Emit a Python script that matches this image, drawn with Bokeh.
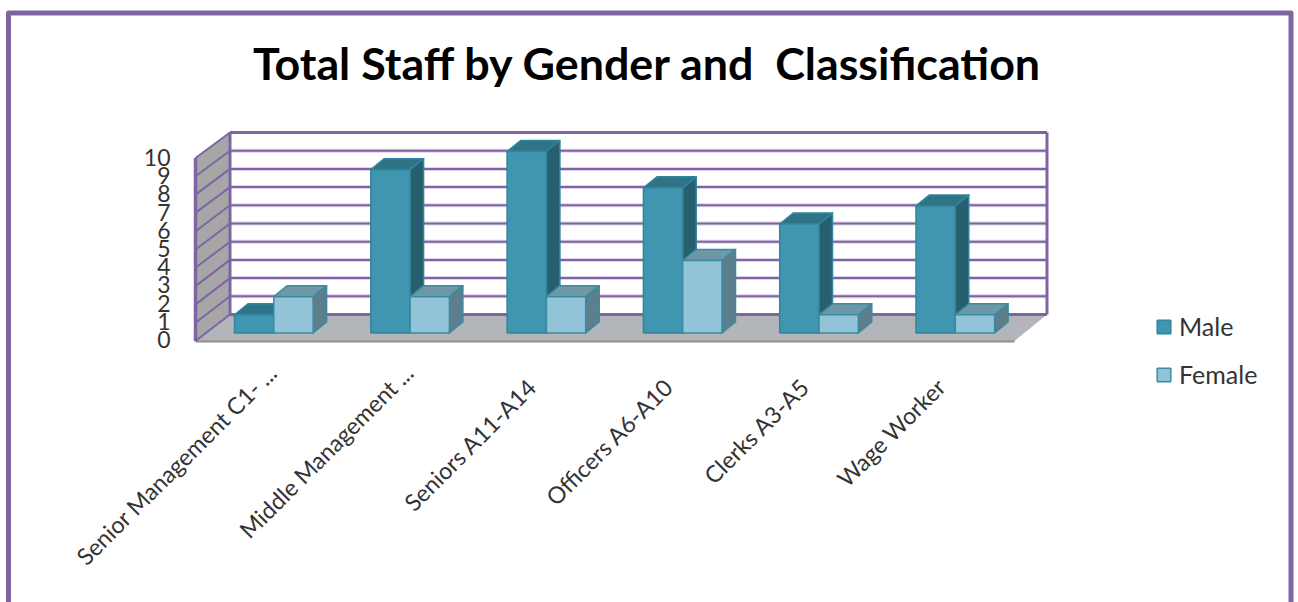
from bokeh.embed import file_html
from bokeh.resources import INLINE
from bokeh.plotting import figure
from bokeh.models import Range1d, LinearAxis, FixedTicker, Legend, LegendItem, Label

categories = ["Senior Management C1- ...", "Middle Management ...", "Seniors A11-A14",
              "Officers A6-A10", "Clerks A3-A5", "Wage Worker"]
male = [1, 9, 10, 8, 6, 7]
female = [2, 2, 2, 4, 1, 1]
value_ticks = list(range(0, 11))
title_text = "Total Staff by Gender and \u00a0Classification"

W, H = 1298, 602
X0, XU = 234.0, 136.3     # pixel of group 0's left edge, pixels per group
Y0, YU = 332.5, 18.15     # pixel of value 0 on the bar plane, pixels per unit


def px(x):
    return (x - X0) / XU


def py(y):
    return (Y0 - y) / YU


BW = 39.3 / XU
DX, DY = 13.5 / XU, 11 / YU
PURPLE = "#8064A2"
HALO = "#DCD3E8"

p = figure(width=W, height=H, toolbar_location=None, output_backend="svg",
           x_range=Range1d(px(0), px(W)), y_range=Range1d(py(H), py(0)),
           x_axis_location=None, y_axis_location=None, min_border=0,
           outline_line_color=None, background_fill_color="white", border_fill_color="white")
p.grid.visible = False

# front-plane scales used by the axes
p.extra_y_ranges["front"] = Range1d((339 - H) / 18.2, 339 / 18.2)
p.extra_x_ranges["long"] = Range1d((0 - 272) / XU, (W - 272) / XU)
p.extra_x_ranges["short"] = Range1d((0 - 259) / XU, (W - 259) / XU)

# outer frame
p.line([px(8), px(8), px(1290.5), px(1290.5)], [py(602), py(12.5), py(12.5), py(602)],
       line_color=PURPLE, line_width=5, line_join="round")

# floor and left wall
FL, BL, BR, FR = 195, 229.5, 1046.5, 1014
FY, BY = 340.5, 314
p.patch([px(FL), px(BL), px(BR), px(FR)], [py(FY), py(BY), py(BY), py(FY)],
        fill_color="#B2B6BA", line_color=None)
p.line([px(FL), px(FR)], [py(FY + 0.5)] * 2, line_color="#8E8E8E", line_width=2)
p.patch([px(FL), px(BL), px(BL), px(FL)], [py(FY), py(BY), py(BY - 182), py(FY - 183)],
        fill_color="#A6A6A6", line_color=None)

# gridlines: back wall and left wall
for v in value_ticks:
    by = BY - 18.2 * v
    fy = FY - 18.3 * v
    if v not in (0, 10):
        p.line([px(BL), px(BR)], [py(by)] * 2, line_color=HALO, line_width=4)
        p.line([px(BL), px(BR)], [py(by)] * 2, line_color=PURPLE, line_width=2)
    else:
        p.line([px(BL), px(BR)], [py(by)] * 2, line_color=PURPLE, line_width=3)
    p.line([px(FL), px(BL)], [py(fy), py(by)], line_color=PURPLE, line_width=2)
p.line([px(FL), px(FL)], [py(FY), py(FY - 183)], line_color=PURPLE, line_width=3.5)
p.line([px(BL), px(BL)], [py(BY), py(BY - 182)], line_color=PURPLE, line_width=3)
p.line([px(BR), px(BR)], [py(BY), py(BY - 182)], line_color=PURPLE, line_width=3)


def draw_bars(i, v, offset, front, top, side, edge):
    l, r = i + offset, i + offset + BW
    p.patch([l, l + DX, r + DX, r], [v, v + DY, v + DY, v],
            fill_color=top, line_color=edge, line_width=1.5, line_join="round")
    p.patch([r, r + DX, r + DX, r], [0, DY, v + DY, v],
            fill_color=side, line_color=edge, line_width=1.5, line_join="round")
    return p.quad(left=[l], right=[r], bottom=[0], top=[v],
                  fill_color=front, line_color=edge, line_width=1.5)


male_r = female_r = None
for i, (m, f) in enumerate(zip(male, female)):
    male_r = draw_bars(i, m, 0, "#4096B0", "#2F7486", "#285F6E", "#31859C")
    female_r = draw_bars(i, f, BW, "#93C3D7", "#6F98A6", "#5C7F8B", "#3A8BA2")

# value axis
ya = LinearAxis(y_range_name="front", ticker=FixedTicker(ticks=value_ticks),
                fixed_location=px(176), axis_line_color=None,
                major_tick_line_color=None, minor_tick_line_color=None,
                major_label_text_font="Lato", major_label_text_font_size="23px",
                major_label_text_color="#333333", major_label_standoff=0)
p.add_layout(ya, "left")


# category axes: the truncated names sit further along their diagonal than the others
def category_axis(range_name, ticks, y_loc):
    return LinearAxis(x_range_name=range_name, ticker=FixedTicker(ticks=ticks),
                      major_label_overrides={t: categories[t] for t in ticks},
                      fixed_location=py(y_loc), axis_line_color=None,
                      major_tick_line_color=None, minor_tick_line_color=None,
                      major_label_orientation=0.785, major_label_text_font="Lato",
                      major_label_text_font_size="23.3px", major_label_text_color="#333333",
                      major_label_standoff=0)


p.add_layout(category_axis("long", [0, 1], 362), "below")
p.add_layout(category_axis("short", [2, 3, 4, 5], 376), "below")

legend = Legend(items=[LegendItem(label="Male", renderers=[male_r]),
                       LegendItem(label="Female", renderers=[female_r])],
                location=(1155, H - 389), border_line_color=None,
                background_fill_alpha=0,
                glyph_width=17, glyph_height=17, label_standoff=7, spacing=18,
                padding=8, margin=0, label_text_font="Lato", label_text_font_size="25px",
                label_text_color="#333333")
p.add_layout(legend)

p.add_layout(Label(x=px(647.5), y=py(62.5), text=title_text, text_font="Lato",
                   text_font_style="bold", text_font_size="44.8px", text_color="black",
                   text_align="center", text_baseline="middle"))

open("out.html", "w").write(file_html(p, INLINE))
